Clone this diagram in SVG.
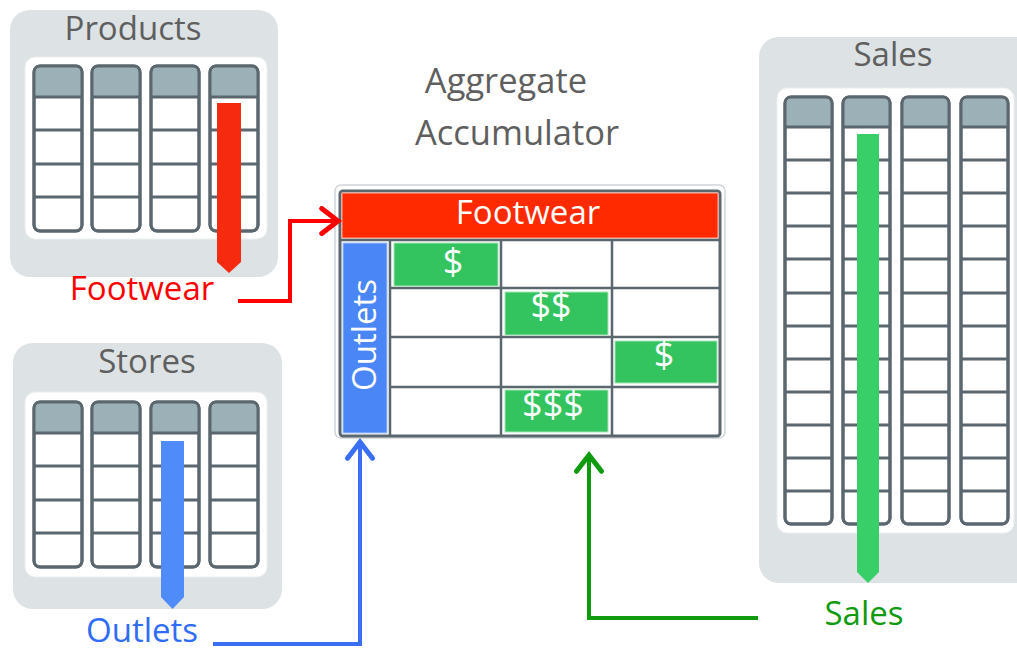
<svg xmlns="http://www.w3.org/2000/svg" xmlns:xlink="http://www.w3.org/1999/xlink" width="1017" height="652" viewBox="0 0 1017 652">
<style>
.panel{fill:#dde2e4}
.inner{fill:#ffffff;stroke:#eceff0;stroke-width:1}
.colbody{fill:#ffffff;stroke:#5a676e;stroke-width:3}
.colhead{fill:#9cb0b8}
.rowline{stroke:#5a676e;stroke-width:3}
.title{font-family:"Open Sans","Liberation Sans",sans-serif;font-size:33px;fill:#5f5f5f;text-anchor:middle}
.big{font-size:34.5px}
.lbl{font-family:"Open Sans","Liberation Sans",sans-serif;font-size:33px;text-anchor:middle}
.grid{stroke:#5a676e;stroke-width:2.5;fill:none}
.cell{fill:#33c45f;stroke:#a8e3b8;stroke-width:1}
.money{font-family:"Open Sans","Liberation Sans",sans-serif;font-size:36px;fill:#ffffff;text-anchor:middle}
.conn{fill:none;stroke-width:4}
</style>
<defs>
<g id="col4">
<rect class="colbody" x="0" y="0" width="48" height="165" rx="6"/>
<path class="colhead" d="M1.5,31 V7 Q1.5,1.5 7,1.5 H41 Q46.5,1.5 46.5,7 V31 Z"/>
<rect x="0" y="0" width="48" height="165" rx="6" fill="none" stroke="#5a676e" stroke-width="3"/>
<line class="rowline" x1="0" y1="31" x2="48" y2="31"/>
<line class="rowline" x1="0" y1="64" x2="48" y2="64"/>
<line class="rowline" x1="0" y1="98" x2="48" y2="98"/>
<line class="rowline" x1="0" y1="131" x2="48" y2="131"/>
</g>
<g id="col12">
<rect class="colbody" x="0" y="0" width="47" height="427" rx="6"/>
<path class="colhead" d="M1.5,30 V7 Q1.5,1.5 7,1.5 H40 Q45.5,1.5 45.5,7 V30 Z"/>
<rect x="0" y="0" width="47" height="427" rx="6" fill="none" stroke="#5a676e" stroke-width="3"/>
<line class="rowline" x1="0" y1="30" x2="47" y2="30"/>
<line class="rowline" x1="0" y1="63" x2="47" y2="63"/>
<line class="rowline" x1="0" y1="96" x2="47" y2="96"/>
<line class="rowline" x1="0" y1="129" x2="47" y2="129"/>
<line class="rowline" x1="0" y1="162" x2="47" y2="162"/>
<line class="rowline" x1="0" y1="196" x2="47" y2="196"/>
<line class="rowline" x1="0" y1="229" x2="47" y2="229"/>
<line class="rowline" x1="0" y1="262" x2="47" y2="262"/>
<line class="rowline" x1="0" y1="295" x2="47" y2="295"/>
<line class="rowline" x1="0" y1="328" x2="47" y2="328"/>
<line class="rowline" x1="0" y1="361" x2="47" y2="361"/>
<line class="rowline" x1="0" y1="394" x2="47" y2="394"/>
</g>
<marker id="arrRed" markerUnits="userSpaceOnUse" markerWidth="30" markerHeight="30" viewBox="-16 -12 20 24" refX="0" refY="0" orient="auto">
<path d="M-13,-10 L0,0 L-13,10" fill="none" stroke="#ff0000" stroke-width="4" stroke-linecap="round" stroke-linejoin="miter"/>
</marker>
<marker id="arrBlue" markerUnits="userSpaceOnUse" markerWidth="30" markerHeight="30" viewBox="-16 -12 20 24" refX="0" refY="0" orient="auto">
<path d="M-13,-10 L0,0 L-13,10" fill="none" stroke="#3a6ff5" stroke-width="4" stroke-linecap="round" stroke-linejoin="miter"/>
</marker>
<marker id="arrGreen" markerUnits="userSpaceOnUse" markerWidth="30" markerHeight="30" viewBox="-16 -12 20 24" refX="0" refY="0" orient="auto">
<path d="M-13,-10 L0,0 L-13,10" fill="none" stroke="#0f9a0f" stroke-width="4" stroke-linecap="round" stroke-linejoin="miter"/>
</marker>
</defs>
<rect width="1017" height="652" fill="#ffffff"/>

<g id="products">
<rect class="panel" x="10" y="10" width="268" height="267" rx="20"/>
<text class="title" x="133" y="40">Products</text>
<rect class="inner" x="25" y="57" width="242" height="182" rx="10"/>
<use xlink:href="#col4" x="34" y="66"/>
<use xlink:href="#col4" x="92" y="66"/>
<use xlink:href="#col4" x="151" y="66"/>
<use xlink:href="#col4" x="210" y="66"/>
<polygon points="217,103 241,103 241,262 229,273 217,262" fill="#f52a0e"/>
</g>

<g id="stores">
<rect class="panel" x="13" y="343" width="269" height="266" rx="20"/>
<text class="title" x="147" y="373">Stores</text>
<rect class="inner" x="25" y="392" width="242" height="185" rx="10"/>
<use xlink:href="#col4" x="34" y="402"/>
<use xlink:href="#col4" x="92" y="402"/>
<use xlink:href="#col4" x="151" y="402"/>
<use xlink:href="#col4" x="210" y="402"/>
<polygon points="161,441 184,441 184,597 172.5,609 161,597" fill="#4f8bf9"/>
</g>

<g id="sales">
<rect class="panel" x="759" y="37" width="280" height="546" rx="20"/>
<text class="title" x="893" y="66">Sales</text>
<rect class="inner" x="777" y="88" width="237" height="445" rx="10"/>
<use xlink:href="#col12" x="785" y="97"/>
<use xlink:href="#col12" x="843" y="97"/>
<use xlink:href="#col12" x="902" y="97"/>
<use xlink:href="#col12" x="961" y="97"/>
<polygon points="857,134 879,134 879,572 868,583 857,572" fill="#38cf68"/>
</g>

<g id="accumulator">
<text class="title big" x="506" y="93">Aggregate</text>
<text class="title big" x="517" y="145">Accumulator</text>
<rect x="335" y="185" width="390" height="253" rx="6" fill="#ffffff" stroke="#d0d5d8" stroke-width="1.5"/>
<rect x="340" y="191" width="380" height="245" rx="3" fill="#ffffff" stroke="#5a676e" stroke-width="3"/>
<rect x="342" y="193" width="376" height="45" fill="#ff2a00" stroke="#ffb0a0" stroke-width="1"/>
<text class="lbl" x="528" y="224" fill="#ffffff">Footwear</text>
<line class="grid" x1="340" y1="240" x2="720" y2="240"/>
<line class="grid" x1="390" y1="288" x2="720" y2="288"/>
<line class="grid" x1="390" y1="337" x2="720" y2="337"/>
<line class="grid" x1="390" y1="387" x2="720" y2="387"/>
<line class="grid" x1="390" y1="240" x2="390" y2="436"/>
<line class="grid" x1="501" y1="240" x2="501" y2="436"/>
<line class="grid" x1="612" y1="240" x2="612" y2="436"/>
<rect x="343" y="243" width="44" height="190" fill="#4a86f5" stroke="#a9c4f7" stroke-width="1"/>
<text class="lbl" x="0" y="0" fill="#ffffff" transform="translate(376,335) rotate(-90)">Outlets</text>
<rect class="cell" x="394" y="243" width="104" height="43"/>
<text class="money" x="453" y="274">$</text>
<rect class="cell" x="505" y="292" width="103" height="43"/>
<text class="money" x="551" y="318">$$</text>
<rect class="cell" x="615" y="341" width="102" height="42"/>
<text class="money" x="664" y="367">$</text>
<rect class="cell" x="505" y="390" width="103" height="42"/>
<text class="money" x="553" y="417">$$$</text>
</g>

<g id="labels">
<text class="lbl" x="142" y="300" fill="#ff0000">Footwear</text>
<text class="lbl" x="142" y="642" fill="#2f6cf7">Outlets</text>
<text class="lbl" x="864" y="625" fill="#0f9a0f">Sales</text>
</g>

<g id="connectors">
<path class="conn" d="M238,301 H290 V221 H338" stroke="#ff0000" marker-end="url(#arrRed)"/>
<path class="conn" d="M213,644 H360 V442" stroke="#3a6ff5" marker-end="url(#arrBlue)"/>
<path class="conn" d="M758,618 H589 V455" stroke="#0f9a0f" marker-end="url(#arrGreen)"/>
</g>
</svg>
